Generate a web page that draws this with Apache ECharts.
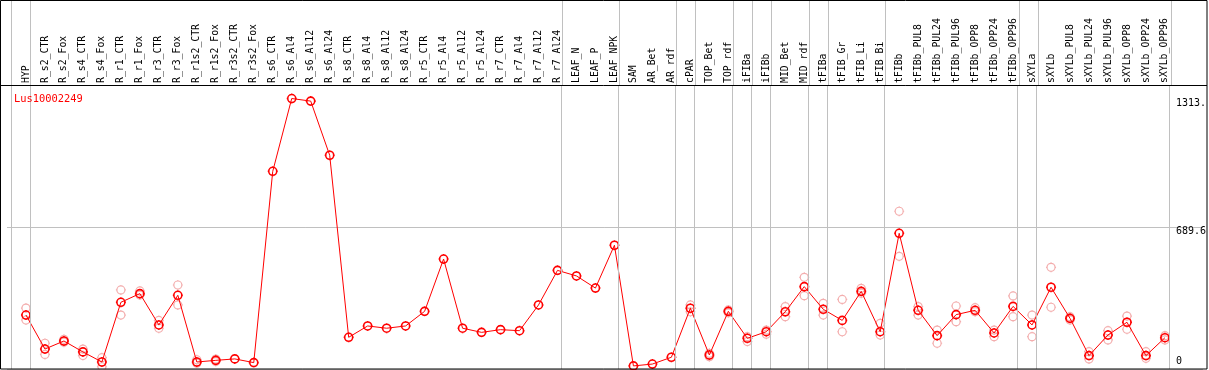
<!DOCTYPE html>
<html>
<head>
<meta charset="utf-8">
<script src="https://cdn.jsdelivr.net/npm/echarts@6/dist/echarts.min.js"></script>
<style>
html, body { margin: 0; padding: 0; background: #fff; }
#main { width: 1209px; height: 370px; }
</style>
</head>
<body>
<div id="main"></div>
<script>
// expression profile of one gene across tissues
var geneName = 'Lus10002249';

var categories = ['HYP', 'R_s2_CTR', 'R_s2_Fox', 'R_s4_CTR', 'R_s4_Fox', 'R_r1_CTR', 'R_r1_Fox',
	'R_r3_CTR', 'R_r3_Fox', 'R_r1s2_CTR', 'R_r1s2_Fox', 'R_r3s2_CTR', 'R_r3s2_Fox', 'R_s6_CTR',
	'R_s6_Al4', 'R_s6_Al12', 'R_s6_Al24', 'R_s8_CTR', 'R_s8_Al4', 'R_s8_Al12', 'R_s8_Al24',
	'R_r5_CTR', 'R_r5_Al4', 'R_r5_Al12', 'R_r5_Al24', 'R_r7_CTR', 'R_r7_Al4', 'R_r7_Al12',
	'R_r7_Al24', 'LEAF_N', 'LEAF_P', 'LEAF_NPK', 'SAM', 'AR_Bet', 'AR_rdf', 'cPAR', 'TOP_Bet',
	'TOP_rdf', 'iFIBa', 'iFIBb', 'MID_Bet', 'MID_rdf', 'tFIBa', 'tFIB_Gr', 'tFIB_Li', 'tFIB_Bi',
	'tFIBb', 'tFIBb_PUL8', 'tFIBb_PUL24', 'tFIBb_PUL96', 'tFIBb_OPP8', 'tFIBb_OPP24',
	'tFIBb_OPP96', 'sXYLa', 'sXYLb', 'sXYLb_PUL8', 'sXYLb_PUL24', 'sXYLb_PUL96', 'sXYLb_OPP8',
	'sXYLb_OPP24', 'sXYLb_OPP96'];

// mean values
var values = [262, 97, 136, 83, 34, 324, 366, 214, 358, 34, 42, 49, 31, 960,
	1313.5, 1301, 1038, 154, 209, 198, 209, 280, 534, 198, 178, 191, 186, 311,
	479, 452, 393, 601, 15, 24, 57, 295, 68, 280, 149, 181, 278, 400, 290, 236,
	377, 181, 659, 285, 162, 264, 285, 175, 304, 214, 397, 246, 65, 165, 227, 65, 152];

// replicate values (null = not visible)
var repHigh = [296, 125, 144, 97, 55, 384, 379, 236, 408, 45, 48,
	null, null, null, null, null, null, null, null, null, null, null, null, null,
	null, null, null, null, null, null, null, null, null, null, null,
	311, 76, 287, 157, 189, 303, 445, 319, 338, 392, 222, 766, 303, 189, 306,
	298, 189, 355, 262, 494, 254, 84, 186, 257, 84, 162];
var repLow = [238, 71, 130, 65, 11, 262, 359, 198, 311, 28, 36,
	null, null, null, null, null, null, null, null, null, null, null, null, null,
	null, null, null, null, null, null, null, null, null, null, null,
	278, 60, 273, 133, 169, 254, 356, 262, 181, 368, 165, 547, 262, 125, 230,
	278, 157, 254, 157, 300, 238, 49, 141, 193, 52, 141];

// separators are drawn after these category indexes
var groupEnds = [-1, 0, 28, 31, 34, 35, 37, 38, 39, 41, 42, 45, 52, 53, 60];

var midTick = 689.6;

var chart = echarts.init(document.getElementById('main'));

var maxVal = Math.max.apply(null, values);
var font = 'DejaVu Sans Mono';
var gridL = 6.99, gridR = 4.27;
// ring with tiny stubs, like the original plot markers
var ringSymbol = 'path://M9 5A4 4 0 1 1 1 5A4 4 0 1 1 9 5Z' +
	'M5 0L5 1M5 9L5 10M0 5L1 5M9 5L10 5';

var lineData = values.map(function (v, i) { return [i, v]; });
var repData = [];
repHigh.forEach(function (v, i) { v != null && repData.push([i, v]); });
repLow.forEach(function (v, i) { v != null && repData.push([i, v]); });

var sepLines = groupEnds.map(function (g) { return { xAxis: g + 0.22 }; });
var sepMark = {
	silent: true,
	symbol: 'none',
	label: { show: false },
	lineStyle: { color: '#c0c0c0', type: 'solid', width: 1 },
	data: sepLines
};

var option = {
	animation: false,
	backgroundColor: '#fff',
	title: {
		text: geneName,
		left: 9,
		top: 89,
		textStyle: { color: '#ff0000', fontFamily: font, fontSize: 10.4, fontWeight: 'normal' }
	},
	grid: [
		{ left: gridL, right: gridR, top: 85, bottom: 1 },
		{ left: gridL, right: gridR, top: 0, height: 85 }
	],
	xAxis: [{
		type: 'value',
		gridIndex: 0,
		position: 'top',
		min: -1,
		max: 62,
		interval: 1,
		axisLine: { show: false },
		axisTick: { show: false },
		splitLine: { show: false },
		axisLabel: {
			rotate: 90,
			margin: 2,
			color: '#000',
			fontFamily: font,
			fontSize: 9.8,
			showMinLabel: true,
			showMaxLabel: true,
			formatter: function (v) { return categories[v] || ''; }
		}
	}, {
		type: 'value',
		gridIndex: 1,
		min: -1,
		max: 62,
		show: false
	}],
	yAxis: [{
		type: 'value',
		gridIndex: 0,
		position: 'right',
		min: 0,
		max: midTick * 2,
		interval: midTick,
		axisLine: { show: false },
		axisTick: { show: false },
		splitLine: { show: true, lineStyle: { color: '#c0c0c0', width: 1 } },
		axisLabel: {
			inside: true,
			align: 'left',
			verticalAlign: 'top',
			lineHeight: 9,
			margin: 27,
			color: '#000',
			fontFamily: font,
			fontSize: 10,
			customValues: [midTick, maxVal],
			formatter: function (v) { return String(v).slice(0, 5); }
		}
	}, {
		type: 'value',
		gridIndex: 0,
		position: 'right',
		min: 0,
		max: midTick * 2,
		axisLine: { show: false },
		axisTick: { show: false },
		splitLine: { show: false },
		axisLabel: {
			inside: true,
			align: 'left',
			verticalAlign: 'bottom',
			lineHeight: 10,
			padding: [0, 0, 3, 0],
			margin: 27,
			showMinLabel: true,
			color: '#000',
			fontFamily: font,
			fontSize: 10,
			customValues: [0],
			formatter: function (v) { return String(v); }
		}
	}, {
		type: 'value',
		gridIndex: 1,
		min: 0,
		max: 1,
		show: false
	}],
	series: [{
		type: 'line',
		xAxisIndex: 1,
		yAxisIndex: 2,
		data: [[0, -1]],
		symbol: 'none',
		lineStyle: { opacity: 0 },
		markLine: sepMark
	}, {
		type: 'scatter',
		xAxisIndex: 0,
		yAxisIndex: 0,
		data: repData,
		symbol: ringSymbol,
		symbolSize: 10,
		itemStyle: { color: 'transparent', borderColor: '#f09a9a', borderWidth: 1.2 },
		z: 3
	}, {
		type: 'line',
		xAxisIndex: 0,
		yAxisIndex: 0,
		data: lineData,
		symbol: ringSymbol,
		symbolSize: 10,
		lineStyle: { color: '#ff0000', width: 1 },
		itemStyle: { color: 'transparent', borderColor: '#ff0000', borderWidth: 1.6 },
		markLine: sepMark,
		z: 4
	}],
	graphic: [{
		type: 'rect',
		z: 100,
		silent: true,
		shape: { x: 0.5, y: 0.5, width: 1206.5, height: 368.5 },
		style: { fill: null, stroke: '#000', lineWidth: 1 }
	}, {
		type: 'line',
		z: 100,
		silent: true,
		shape: { x1: 0, y1: 85.5, x2: 1207, y2: 85.5 },
		style: { stroke: '#000', lineWidth: 1 }
	}]
};

chart.setOption(option);
</script>
</body>
</html>
